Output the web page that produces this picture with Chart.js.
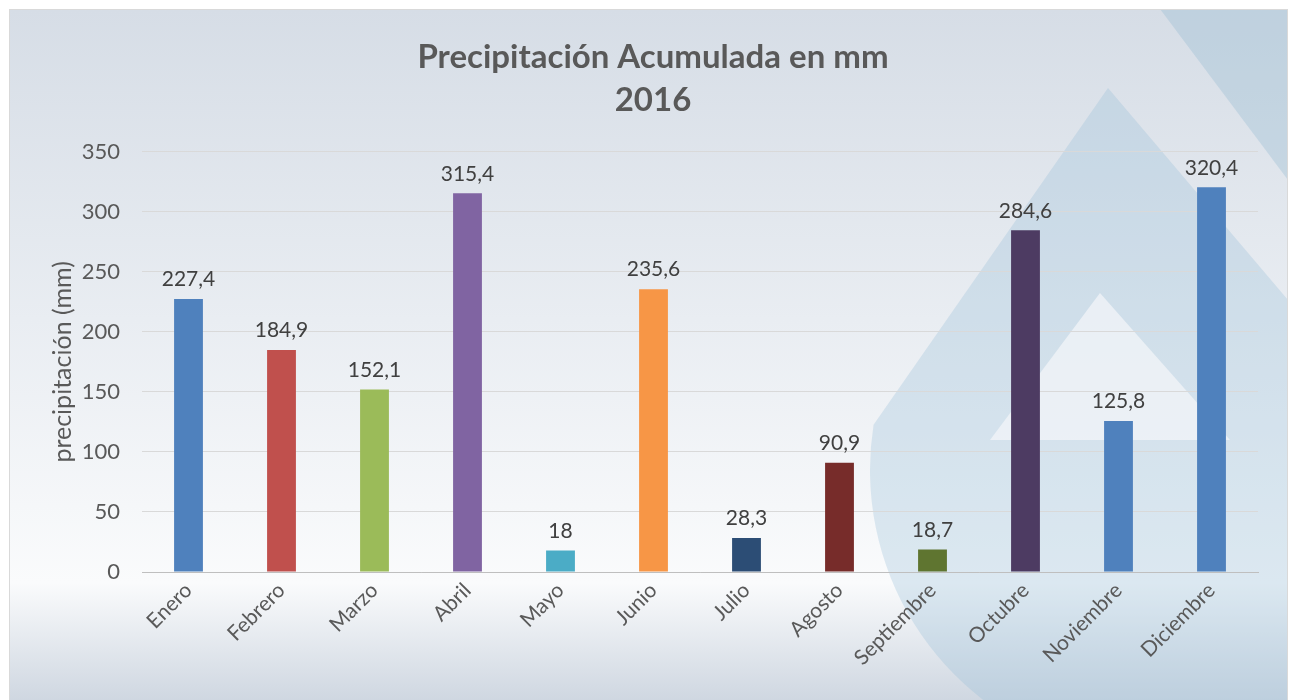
<!DOCTYPE html>
<html>
<head>
<meta charset="utf-8">
<script src="https://cdn.jsdelivr.net/npm/chart.js@4/dist/chart.umd.min.js"></script>
<style>
  html, body { margin: 0; padding: 0; background: #fff; }
  #wrap { width: 1293px; height: 700px; }
</style>
</head>
<body>
<div id="wrap"><canvas id="bar-chart" width="1293" height="700"></canvas></div>
<script>
// datos
const meses = ["Enero", "Febrero", "Marzo", "Abril", "Mayo", "Junio", "Julio", "Agosto", "Septiembre", "Octubre", "Noviembre", "Diciembre"];
const precipitacion = [227.4, 184.9, 152.1, 315.4, 18, 235.6, 28.3, 90.9, 18.7, 284.6, 125.8, 320.4];
const coloresBarras = ["#4F81BD", "#C0504D", "#9BBB59", "#8064A2", "#4BACC6", "#F79646", "#2C4D75", "#772C2A", "#5F7530", "#4D3B62", "#4F81BD", "#4F81BD"];
const tituloLineas = ["Precipitación Acumulada en mm", "2016"];
const etiquetaEjeY = "precipitación (mm)";

const fuente = "Lato, 'Open Sans', sans-serif";

// fondo con degradado y la gota de marca de agua
const fondoPlugin = {
  id: "fondo",
  beforeDraw(chart) {
    const c = chart.ctx;
    const x0 = 9, y0 = 9, x1 = 1288, y1 = 700;
    c.save();
    const g = c.createLinearGradient(0, y0, 0, y1);
    g.addColorStop(0, "#d6dde6");
    g.addColorStop(0.45, "#e9edf2");
    g.addColorStop(0.83, "#fafbfc");
    g.addColorStop(1, "#cfd7e1");
    c.fillStyle = g;
    c.fillRect(x0, y0, x1 - x0, y1 - y0);

    c.beginPath();
    c.rect(x0, y0, x1 - x0, y1 - y0);
    c.clip();

    // franja diagonal arriba a la derecha
    c.fillStyle = "rgba(150, 185, 210, 0.35)";
    c.beginPath();
    c.moveTo(1160, y0);
    c.lineTo(x1, y0);
    c.lineTo(x1, 180);
    c.closePath();
    c.fill();

    // gota
    c.fillStyle = "rgba(150, 190, 215, 0.3)";
    c.beginPath();
    c.moveTo(1108, 88);
    c.lineTo(x1, 300);
    c.lineTo(x1, 560);
    c.arc(1160, 470, 290, 0.3, Math.PI * 1.05, false);
    c.closePath();
    c.fill();

    // triangulo interior claro
    c.fillStyle = "rgba(245, 247, 250, 0.7)";
    c.beginPath();
    c.moveTo(1100, 293);
    c.lineTo(1230, 440);
    c.lineTo(990, 440);
    c.closePath();
    c.fill();

    c.restore();

    c.save();
    c.strokeStyle = "#d9d9d9";
    c.lineWidth = 1;
    c.strokeRect(x0 + 0.5, y0 + 0.5, x1 - x0 - 1, y1 - y0);
    c.restore();
  }
};

// etiquetas de valor encima de cada barra
const valoresPlugin = {
  id: "valores",
  afterDatasetsDraw(chart) {
    const c = chart.ctx;
    const meta = chart.getDatasetMeta(0);
    c.save();
    c.font = "21px " + fuente;
    c.fillStyle = "#404040";
    c.textAlign = "center";
    c.textBaseline = "bottom";
    meta.data.forEach((bar, i) => {
      const txt = String(precipitacion[i]).replace(".", ",");
      c.fillText(txt, bar.x, bar.y - 9);
    });
    c.restore();
  }
};

const ctx = document.getElementById("bar-chart").getContext("2d");
new Chart(ctx, {
  type: "bar",
  data: {
    labels: meses,
    datasets: [{
      label: "precipitación",
      data: precipitacion,
      backgroundColor: coloresBarras,
      borderWidth: 0,
      barPercentage: 0.31,
      categoryPercentage: 1.0,
    }],
  },
  options: {
    responsive: false,
    animation: false,
    layout: { padding: { left: 48, right: 35, top: 12, bottom: 0 } },
    plugins: {
      legend: { display: false },
      tooltip: { enabled: false },
      title: {
        display: true,
        text: tituloLineas,
        color: "#595959",
        font: { family: fuente, size: 33, weight: "bold", lineHeight: 1.3 },
        padding: { top: 24, bottom: 30 },
      },
    },
    scales: {
      x: {
        grid: { display: false, drawTicks: false },
        border: { color: "#bfbfbf", width: 1 },
        ticks: {
          color: "#595959",
          font: { family: fuente, size: 21 },
          minRotation: 45,
          maxRotation: 45,
          padding: 6,
          autoSkip: false,
        },
        afterFit(scale) { scale.height = 128; },
      },
      y: {
        min: 0,
        max: 350,
        ticks: {
          stepSize: 50,
          color: "#595959",
          font: { family: fuente, size: 22 },
          padding: 22,
        },
        grid: { color: "#d9d9d9", drawTicks: false },
        border: { display: false },
        title: {
          display: true,
          text: etiquetaEjeY,
          color: "#595959",
          font: { family: fuente, size: 25 },
          padding: { top: 0, bottom: 0 },
        },
        afterFit(scale) { scale.width = 94; },
      },
    },
  },
  plugins: [fondoPlugin, valoresPlugin],
});
</script>
</body>
</html>
